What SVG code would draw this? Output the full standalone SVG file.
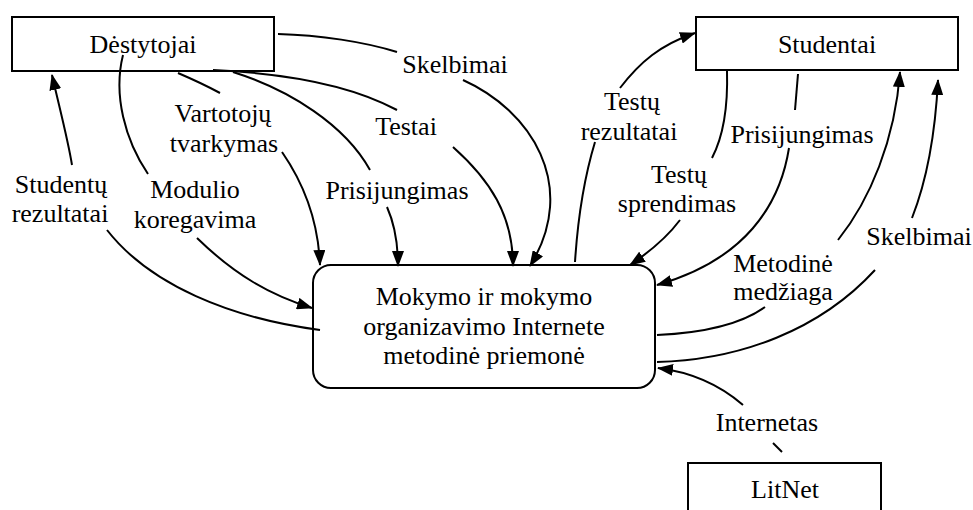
<svg xmlns="http://www.w3.org/2000/svg" width="973" height="510" viewBox="0 0 973 510">
  <style>
    .box { fill: #ffffff; stroke: #000000; stroke-width: 2; }
    .flow { fill: none; stroke: #000000; stroke-width: 2; }
    .arrow { fill: none; stroke: #000000; stroke-width: 2; marker-end: url(#head); }
    text { font-family: "Liberation Serif", "Times New Roman", serif; font-size: 26px; fill: #000000; text-anchor: middle; }
  </style>
  <defs>
    <marker id="head" viewBox="0 0 16 12" refX="15" refY="6" markerWidth="16" markerHeight="12" markerUnits="userSpaceOnUse" orient="auto">
      <path d="M0,0 L16,6 L0,12 z" fill="#000000"/>
    </marker>
  </defs>

  <rect width="973" height="510" fill="#ffffff"/>

  <!-- external entities and the central process -->
  <g id="destytojai">
    <rect class="box" x="12" y="17" width="262" height="54"/>
    <text x="143" y="53">Dėstytojai</text>
  </g>
  <g id="studentai">
    <rect class="box" x="696" y="17" width="262" height="53"/>
    <text x="827" y="53">Studentai</text>
  </g>
  <g id="priemone">
    <rect class="box" x="313" y="265" width="342" height="123" rx="18" ry="18"/>
    <text x="484" y="305">Mokymo ir mokymo</text>
    <text x="484" y="335">organizavimo Internete</text>
    <text x="484" y="364">metodinė priemonė</text>
  </g>
  <g id="litnet">
    <rect class="box" x="688" y="463" width="193" height="60"/>
    <text x="785" y="498">LitNet</text>
  </g>

  <!-- data flows -->
  <g id="connectors">
    <!-- Skelbimai (lecturer -> system) -->
    <path class="flow" d="M278,34 C320,35 365,42 397,52"/>
    <path class="arrow" d="M463,80 C530,110 580,185 530,266"/>
    <!-- Testai -->
    <path class="flow" d="M213,70 C300,74 360,90 397,110"/>
    <path class="arrow" d="M453,147 C490,180 513,215 513,266"/>
    <!-- Prisijungimas (lecturer) -->
    <path class="flow" d="M233,72 C290,90 345,125 370,170"/>
    <path class="arrow" d="M387,207 C395,225 398,245 398,266"/>
    <!-- Vartotojų tvarkymas -->
    <path class="flow" d="M178,73 C192,79 207,86 220,93"/>
    <path class="arrow" d="M282,152 C300,178 318,215 320,265"/>
    <!-- Modulio koregavima -->
    <path class="flow" d="M123,55 C113,95 125,140 148,174"/>
    <path class="arrow" d="M197,238 C235,275 270,295 312,308"/>
    <!-- Studentų rezultatai -->
    <path class="flow" d="M320,330 C230,318 150,285 107,230"/>
    <path class="arrow" d="M72,165 C68,140 60,110 52,75"/>
    <!-- Testų rezultatai -->
    <path class="flow" d="M575,262 C578,215 585,175 595,142"/>
    <path class="arrow" d="M620,88 C640,62 660,45 695,33"/>
    <!-- Testų sprendimas -->
    <path class="flow" d="M727,71 C728,105 724,135 712,158"/>
    <path class="arrow" d="M680,220 C665,240 648,253 630,265"/>
    <!-- Prisijungimas (students) -->
    <path class="flow" d="M798,74 L795,110"/>
    <path class="arrow" d="M789,148 C780,205 745,260 657,285"/>
    <!-- Metodinė medžiaga -->
    <path class="flow" d="M657,335 C700,333 740,325 765,307"/>
    <path class="arrow" d="M838,240 C870,200 895,140 900,72"/>
    <!-- Skelbimai (system -> students) -->
    <path class="flow" d="M657,362 C740,360 820,330 875,270"/>
    <path class="arrow" d="M912,218 C925,185 935,140 938,80"/>
    <!-- Internetas -->
    <path class="arrow" d="M743,405 C720,385 690,372 658,368"/>
    <path class="flow" d="M773,443 L782,452"/>
  </g>

  <!-- flow labels -->
  <g id="labels">
    <text x="455" y="73">Skelbimai</text>
    <text x="406" y="135">Testai</text>
    <text x="397" y="199">Prisijungimas</text>
    <text x="223" y="122">Vartotojų</text>
    <text x="224" y="152">tvarkymas</text>
    <text x="195" y="198">Modulio</text>
    <text x="195" y="228">koregavima</text>
    <text x="61" y="193">Studentų</text>
    <text x="60" y="222">rezultatai</text>
    <text x="632" y="110">Testų</text>
    <text x="629" y="140">rezultatai</text>
    <text x="679" y="183">Testų</text>
    <text x="677" y="212">sprendimas</text>
    <text x="802" y="143">Prisijungimas</text>
    <text x="783" y="272">Metodinė</text>
    <text x="783" y="300">medžiaga</text>
    <text x="919" y="245">Skelbimai</text>
    <text x="767" y="431">Internetas</text>
  </g>
</svg>
